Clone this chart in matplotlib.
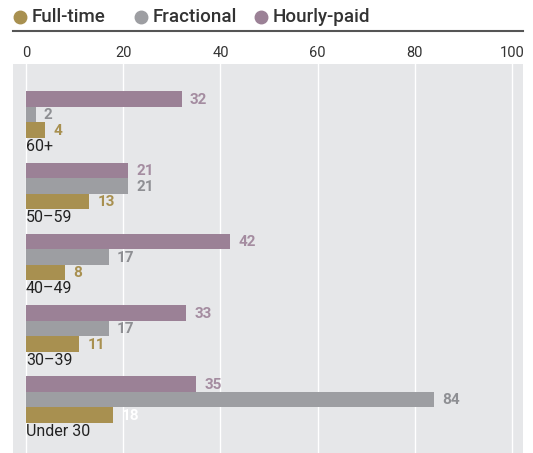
import matplotlib.pyplot as plt
from matplotlib.lines import Line2D

plt.rcParams['font.family'] = ['Roboto', 'DejaVu Sans']

# data
groups = ['60+', '50–59', '40–49', '30–39', 'Under 30']
hourly = [32, 21, 42, 33, 35]
fractional = [2, 21, 17, 17, 84]
fulltime = [4, 13, 8, 11, 18]
ticks = [0, 20, 40, 60, 80, 100]
legend_names = ['Full-time', 'Fractional', 'Hourly-paid']

c_hourly = '#9b8196'
c_frac = '#9d9ea2'
c_full = '#a89050'
bg = '#e6e7e9'

W, H = 533, 453
fig = plt.figure(figsize=(W / 100, H / 100), dpi=100)
ax = fig.add_axes([13 / W, 0, 510 / W, 389 / H])
ax.set_facecolor(bg)
for s in ax.spines.values():
    s.set_visible(False)

pitch = 4.6
series = [(hourly, c_hourly, '#a48ca0'), (fractional, c_frac, '#8e8f93'), (fulltime, c_full, c_full)]
for g, name in enumerate(groups):
    base = g * pitch
    for k, (vals, col, lcol) in enumerate(series):
        y = base + k
        v = vals[g]
        ax.barh(y, v, height=1.0, color=col, zorder=2)
        tc = lcol
        if k == 2 and name == 'Under 30':
            tc = 'white'
        ax.text(v + 1.7, y + 0.05, str(v), color=tc, fontsize=11, fontweight='bold',
                va='center', ha='left', zorder=3)
    ax.text(0, base + 3.05, name, color='#222222', fontsize=11.5, fontweight='normal',
            va='center', ha='left', zorder=3)

ax.set_xlim(-2.67, 102.26)
ax.set_ylim(22.84, -2.26)
ax.set_yticks([])
ax.set_xticks(ticks)
ax.xaxis.tick_top()
ax.tick_params(axis='x', length=0, pad=3, labelsize=10.5, labelcolor='#333333')
ax.grid(axis='x', color='white', linewidth=1.0, zorder=1)
ax.set_axisbelow(True)

# legend (placed by hand) + rule line
ly = 1 - 17 / H
for name, col, cx in zip(legend_names, (c_full, c_frac, c_hourly), (20, 141, 261)):
    fig.add_artist(Line2D([cx / W], [ly], marker='o', markersize=9, color=col, linestyle=''))
    fig.text((cx + 12) / W, ly, name, fontsize=13.5, fontweight='medium', color='#333333',
             va='center', ha='left')
fig.add_artist(Line2D([13 / W, 523 / W], [1 - 31 / H, 1 - 31 / H], color='#555555', linewidth=1.5))

fig.savefig('out.png', dpi=100)
